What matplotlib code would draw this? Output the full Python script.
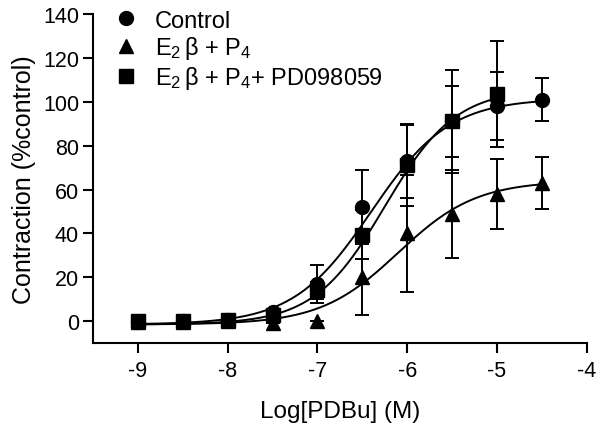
import numpy as np
import matplotlib
matplotlib.use("Agg")
import matplotlib.pyplot as plt

plt.rcParams['font.family'] = ['Liberation Sans', 'DejaVu Sans']
plt.rcParams['mathtext.fontset'] = 'custom'
plt.rcParams['mathtext.rm'] = 'Liberation Sans'
plt.rcParams['mathtext.it'] = 'Liberation Sans'

# log concentrations
log_conc = [-9, -8.5, -8, -7.5, -7, -6.5, -6, -5.5, -5, -4.5]
log_conc_pd = [-9, -8.5, -8, -7.5, -7, -6.5, -6, -5.5, -5]

# mean contraction (% control) and SEM
control = [-0.5, 0, 0.5, 4, 17, 52, 73, 91, 98, 101]
control_err = [0, 0, 0, 0, 8.5, 17, 17, 16, 15.5, 10]
e2p4 = [-0.5, -0.5, 0, -1, 0, 20, 40, 49, 58, 63]
e2p4_err = [0, 0, 0, 0, 0, 17, 26.5, 20, 16, 12]
e2p4_pd = [0, 0, 0.5, 3, 14, 39.5, 71, 91, 103.5]
e2p4_pd_err = [0, 0, 0, 0, 4, 11, 18.5, 23.5, 24]

# fitted sigmoid parameters: bottom, top, logEC50, hill
fit_control = (-1.5, 101.5, -6.4, 1.0)
fit_e2p4 = (-1.5, 64, -6.1, 1.0)
fit_e2p4_pd = (-1.5, 106, -6.25, 1.1)

labels = ['Control', r'E$_2\,$β + P$_4$', r'E$_2\,$β + P$_4$+ PD098059']


def sigmoid(x, p):
    bottom, top, ec50, hill = p
    return bottom + (top - bottom) / (1 + 10 ** ((ec50 - x) * hill))


fig = plt.figure(figsize=(6, 4.27), dpi=100)
ax = fig.add_axes([0.155, 0.194, 0.823, 0.771])

series = [
    (log_conc, control, control_err, fit_control, 'o', 10),
    (log_conc, e2p4, e2p4_err, fit_e2p4, '^', 10),
    (log_conc_pd, e2p4_pd, e2p4_pd_err, fit_e2p4_pd, 's', 9.5),
]

handles = []
for (x, y, err, fit, m, ms), lab in zip(series, labels):
    xs = np.linspace(x[0], x[-1], 300)
    ax.plot(xs, sigmoid(xs, fit), color='black', lw=1.4, zorder=2)
    ax.errorbar(x, y, yerr=err, fmt='none', ecolor='black', elinewidth=1.4,
                capsize=5, capthick=1.4, zorder=3)
    h, = ax.plot(x, y, linestyle='none', marker=m, markersize=ms,
                 color='black', zorder=4, label=lab)
    handles.append(h)

ax.set_xlim(-9.5, -4)
ax.set_ylim(-10, 140)
ax.set_xticks([-9, -8, -7, -6, -5, -4])
ax.set_yticks(range(0, 141, 20))
ax.set_xticklabels(['-9', '-8', '-7', '-6', '-5', '-4'])

for s in ['top', 'right']:
    ax.spines[s].set_visible(False)
for s in ['left', 'bottom']:
    ax.spines[s].set_linewidth(1.5)
ax.tick_params(width=1.5, length=7, labelsize=15.5, pad=3)
ax.tick_params(axis='x', pad=5)

ax.set_xlabel('Log[PDBu] (M)', fontsize=17.5, labelpad=14)
ax.set_ylabel('Contraction (%control)', fontsize=18, labelpad=5)

ax.legend(handles=handles, loc='upper left', bbox_to_anchor=(0.043, 1.013),
          frameon=False, fontsize=17, handlelength=1.0, handletextpad=0.73,
          labelspacing=0.12, borderaxespad=0, borderpad=0)

fig.savefig('out.png', dpi=100)
